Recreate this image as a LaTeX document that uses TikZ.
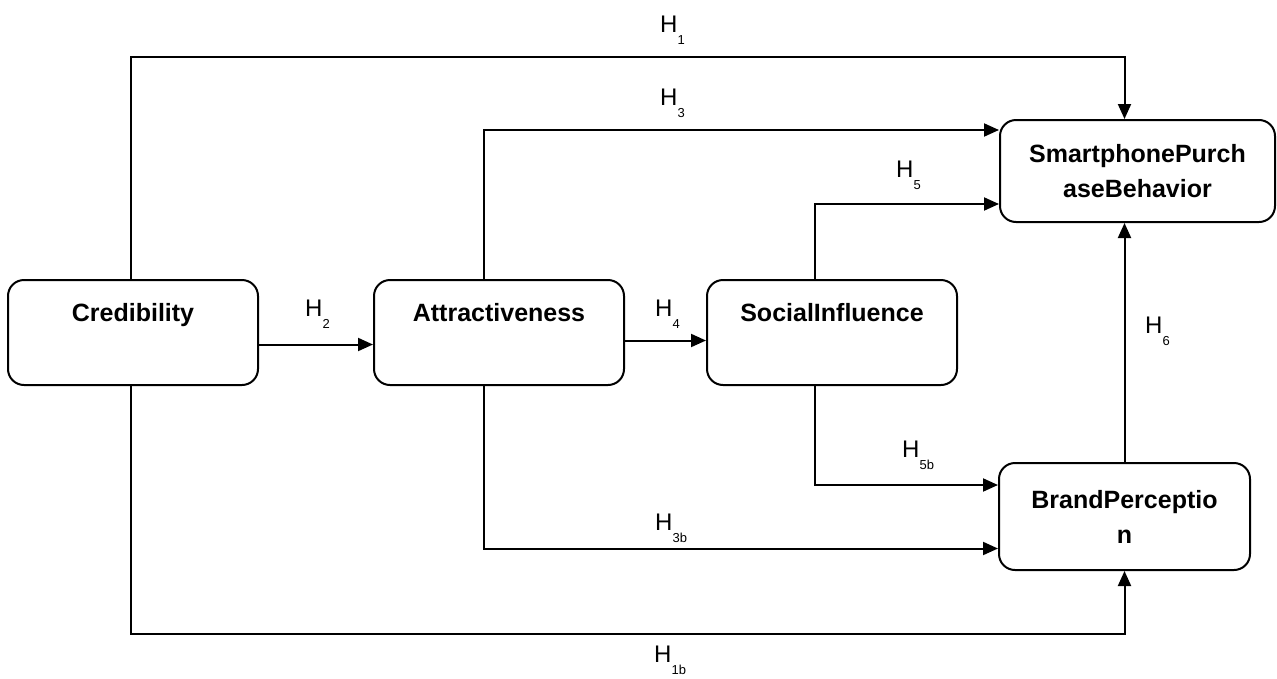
\documentclass[tikz,border=0pt]{standalone}
\usepackage{fontspec}
\setmainfont{Liberation Sans}
\usepackage{tikz}
\usetikzlibrary{arrows.meta, positioning, calc}
\newcommand{\hyp}[1]{H\raisebox{-0.5em}{\fontsize{13}{13}\selectfont #1}}

\begin{document}
\begin{tikzpicture}[x=1pt, y=-1pt,
            box/.style={draw, line width=2pt, rounded corners=16pt, font=\fontsize{25}{35}\selectfont\bfseries, inner sep=0pt, minimum width=250pt, minimum height=105pt},
            onebox/.style={box, text height=41pt, text depth=64pt},
            twobox/.style={box, align=center},
            hlab/.style={anchor=base west, inner sep=0pt, font=\fontsize{24}{24}\selectfont},
            arr/.style={-{Triangle[length=15pt, width=13pt]}, line width=2pt}
        ]
            \useasboundingbox (0,0) rectangle (1277,678);
            \node[onebox] (cred) at (133,332.5) {Credibility};
            \node[onebox] (attr) at (499,332.5) {Attractiveness};
            \node[onebox] (soc) at (832,332.5) {SocialInfluence};
            \node[twobox, minimum width=275pt, minimum height=102pt] (spb) at (1137.5,171) {SmartphonePurch\\aseBehavior};
            \node[twobox, minimum width=251pt, minimum height=107pt] (bp) at (1124.5,516.5) {BrandPerceptio\\n};
            % paths to purchase behavior
            \draw[arr] ([xshift=-2pt]cred.north) -- ++(0,-222) -| (bp.north |- spb.north);
            \draw[arr] ([xshift=-15pt]attr.north) |- ([yshift=41pt]spb.west);
            \draw[arr] ([xshift=-17pt]soc.north) |- ([yshift=-33pt]spb.west);
            \draw[arr] (bp.north) -- (bp.north |- spb.south);
            % chain
            \draw[arr] ([yshift=-12pt]cred.east) -- ([yshift=-12pt]attr.west);
            \draw[arr] ([yshift=-8pt]attr.east) -- ([yshift=-8pt]soc.west);
            % paths to brand perception
            \draw[arr] ([xshift=-17pt]soc.south) |- ([yshift=31.5pt]bp.west);
            \draw[arr] ([xshift=-15pt]attr.south) |- ([yshift=-32pt]bp.west);
            \draw[arr] ([xshift=-2pt]cred.south) -- ++(0,248) -| (bp.south);
            % labels
            \node[hlab] (h1) at (660,32) {\hyp{1}};
            \node[hlab] (h3) at (660,105) {\hyp{3}};
            \node[hlab] (h5) at (896,177) {\hyp{5}};
            \node[hlab] (h2) at (305,316) {\hyp{2}};
            \node[hlab] (h4) at (655,316) {\hyp{4}};
            \node[hlab] (h6) at (1145,333) {\hyp{6}};
            \node[hlab] (h5b) at (902,457) {\hyp{5b}};
            \node[hlab] (h3b) at (655,530) {\hyp{3b}};
            \node[hlab] (h1b) at (654,662) {\hyp{1b}};
        \end{tikzpicture}
\end{document}
